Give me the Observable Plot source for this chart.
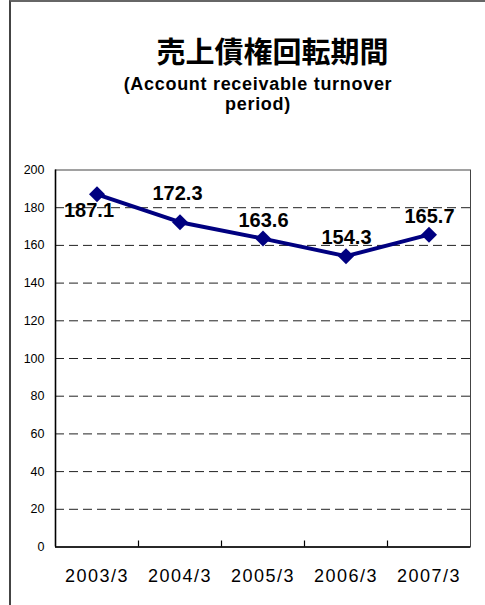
<!DOCTYPE html>
<html>
<head>
<meta charset="utf-8">
<script src="https://cdn.jsdelivr.net/npm/d3@7"></script>
<script src="https://cdn.jsdelivr.net/npm/@observablehq/plot@0.6"></script>
<style>
  html, body { margin: 0; padding: 0; background: #fff; }
  #wrap { position: relative; width: 485px; height: 605px; overflow: hidden; background: #fff; }
  #border { position: absolute; left: 9px; top: 0; width: 600px; height: 700px;
            border-left: 2px solid #444; border-top: 2px solid #666; box-sizing: border-box; }
  #title { position: absolute; left: 0; top: 35.5px; width: 545px; text-align: center;
           font-family: "Noto Sans CJK JP", sans-serif; font-weight: bold; font-size: 29px; line-height: 29px; color: #000; }
  #subtitle { position: absolute; left: 0; top: 73.7px; width: 516px; text-align: center;
           font-family: "Liberation Sans", Arial, sans-serif; font-weight: bold; font-size: 18px; line-height: 20px;
           letter-spacing: 0.7px; color: #000; }
  #chart { position: absolute; left: 0; top: 150px; }
  #chart g[aria-label="x-axis tick label"] text { letter-spacing: 1.5px; }
</style>
</head>
<body>
<div id="wrap">
  <div id="border"></div>
  <div id="title">売上債権回転期間</div>
  <div id="subtitle">(Account receivable turnover<br>period)</div>
  <div id="chart"></div>
</div>
<script>
const categories = ["2003/3", "2004/3", "2005/3", "2006/3", "2007/3"];
const values = [187.1, 172.3, 163.6, 154.3, 165.7];
const yTicks = [0, 20, 40, 60, 80, 100, 120, 140, 160, 180, 200];

const data = categories.map((c, i) => ({i, cat: c, v: values[i]}));
const gridTicks = yTicks.filter(t => t > 0 && t < 200);
const boundaries = categories.slice(1).map((_, i) => i + 0.5);
const navy = "#000080";

const chart = Plot.plot({
  width: 485,
  height: 455,
  marginTop: 19.5,
  marginBottom: 58.5,
  marginLeft: 55,
  marginRight: 15,
  style: {fontFamily: "Liberation Sans, Arial, sans-serif", fontSize: "12.5px", color: "#000", background: "transparent"},
  x: {domain: [-0.5, categories.length - 0.5]},
  y: {domain: [0, 200]},
  marks: [
    Plot.ruleY(gridTicks, {stroke: "#222", strokeWidth: 1, strokeDasharray: "9,5"}),
    Plot.frame({stroke: "#444", strokeWidth: 1}),
    Plot.ruleY([0], {stroke: "#000", strokeWidth: 1.6}),
    Plot.ruleX([-0.5], {stroke: "#000", strokeWidth: 1.6}),
    Plot.ruleX(boundaries, {x: d => d, y1: 0, y2: 200 * 6 / 377, stroke: "#000", strokeWidth: 1.2}),
    Plot.axisY({ticks: yTicks, tickSize: 0, tickPadding: 11, label: null, fontSize: 12.5}),
    Plot.axisX({ticks: categories.map((_, i) => i), tickFormat: i => categories[i], tickSize: 0, tickPadding: 22, label: null, fontSize: 18}),
    Plot.line(data, {x: "i", y: "v", stroke: navy, strokeWidth: 4, strokeLinejoin: "miter"}),
    Plot.dot(data, {x: "i", y: "v", symbol: "diamond2", r: 7.2, fill: navy, stroke: "none"}),
    Plot.text(data.filter(d => d.i === 0), {x: "i", y: "v", text: d => d.v.toFixed(1), dx: -8, dy: 16, fontSize: 20, fontWeight: "bold", fill: "#000"}),
    Plot.text(data.filter(d => d.i === 1), {x: "i", y: "v", text: d => d.v.toFixed(1), dx: -2.5, dy: -29, fontSize: 20, fontWeight: "bold", fill: "#000"}),
    Plot.text(data.filter(d => d.i > 1), {x: "i", y: "v", text: d => d.v.toFixed(1), dx: 0.5, dy: -18.5, fontSize: 20, fontWeight: "bold", fill: "#000"})
  ]
});
document.getElementById("chart").appendChild(chart);
</script>
</body>
</html>
